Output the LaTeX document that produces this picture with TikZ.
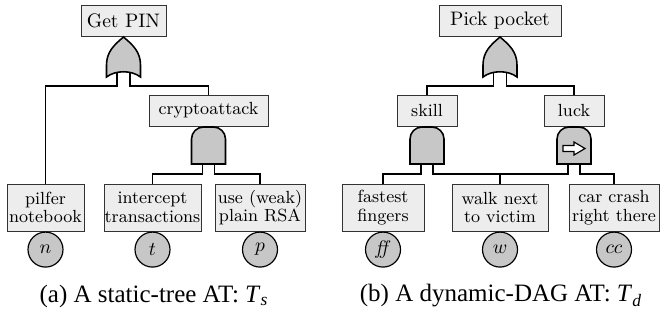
\documentclass[tikz,border=0pt]{standalone}
\usepackage{fontspec}
\newfontfamily\capfont{Liberation Serif}
\usetikzlibrary{calc}
\pgfdeclarelayer{bg}
\pgfsetlayers{bg,main}
\def\pxu{0.512pt}
\tikzset{
  box/.style={draw=black!80, line width=0.5pt, fill=black!7, inner sep=0pt, align=center, font=\fontsize{9}{9.5}\selectfont},
  rootbox/.style={box, font=\fontsize{10}{12}\selectfont},
  leaf/.style={draw=black, line width=0.6pt, fill=black!22, circle, inner sep=0pt, minimum size=35*\pxu, font=\fontsize{10}{12}\selectfont, anchor=north},
  wire/.style={line width=0.8pt},
  gate/.style={draw=black, line width=0.8pt, fill=black!22},
  caption/.style={font=\capfont\fontsize{12.8}{14}\selectfont, inner sep=0pt},
  orgate/.pic={
    \path[gate] (0,0) .. controls (9.5,8) and (17,15) .. (17,28) -- (17,40)
      .. controls (8,33) and (-8,33) .. (-17,40) -- (-17,28)
      .. controls (-17,15) and (-9.5,8) .. (0,0) -- cycle;
    \coordinate (-l) at (-6.5,33); \coordinate (-lb) at (-6.5,49);
    \coordinate (-r) at (6.5,33);  \coordinate (-rb) at (6.5,49);
  },
  andgate/.pic={
    \path[gate] (-17,37) -- (-17,12) .. controls (-17,5.4) and (-11.6,0) .. (-5,0)
      -- (5,0) .. controls (11.6,0) and (17,5.4) .. (17,12) -- (17,37) -- cycle;
    \coordinate (-l) at (-6,35); \coordinate (-lb) at (-6,47);
    \coordinate (-r) at (6,35);  \coordinate (-rb) at (6,47);
  },
  sandgate/.pic={
    \path[gate] (-17,37) -- (-17,12) .. controls (-17,5.4) and (-11.6,0) .. (-5,0)
      -- (5,0) .. controls (11.6,0) and (17,5.4) .. (17,12) -- (17,37) -- cycle;
    \draw[line width=0.6pt, fill=white] (-11,18.5) -- (0,18.5) -- (0,15) -- (11,21.5)
      -- (0,28) -- (0,24.5) -- (-11,24.5) -- cycle;
    \coordinate (-l) at (-6,35); \coordinate (-lb) at (-6,47);
    \coordinate (-r) at (6,35);  \coordinate (-rb) at (6,47);
  },
}
\begin{document}
\begin{tikzpicture}[x=0.512pt,y=-0.512pt]
\useasboundingbox (0,0) rectangle (660,320);

% ---- (a) static tree ----
\node[rootbox, minimum width=85*\pxu, minimum height=31*\pxu] (getpin) at (123.5,20.5) {Get PIN};
\node[box, minimum width=119*\pxu, minimum height=31*\pxu] (crypto) at (208.5,110.5) {cryptoattack};
\node[box, minimum width=77*\pxu, minimum height=47*\pxu] (pilfer) at (45.5,207.5) {pilfer\\notebook};
\node[box, minimum width=97*\pxu, minimum height=47*\pxu] (intercept) at (152.5,207.5) {intercept\\transactions};
\node[box, minimum width=90*\pxu, minimum height=47*\pxu] (rsa) at (260,207.5) {use (weak)\\plain RSA};
\node[leaf] (cn) at (pilfer.south) {$n$};
\node[leaf] (ct) at (intercept.south) {$t$};
\node[leaf] (cp) at (rsa.south) {$p$};
\pic (g1) at (123.5,37) {orgate};
\pic (g2) at (208.5,127) {andgate};

% ---- (b) dynamic DAG ----
\node[rootbox, minimum width=122*\pxu, minimum height=31*\pxu] (pick) at (500,20.5) {Pick pocket};
\node[box, minimum width=60*\pxu, minimum height=31*\pxu] (skill) at (427,110.5) {skill};
\node[box, minimum width=60*\pxu, minimum height=31*\pxu] (luck) at (574,110.5) {luck};
\node[box, minimum width=82*\pxu, minimum height=47*\pxu] (fastest) at (383,207.5) {fastest\\fingers};
\node[box, minimum width=96*\pxu, minimum height=47*\pxu] (walk) at (500,207.5) {walk next\\to victim};
\node[box, minimum width=90*\pxu, minimum height=47*\pxu] (car) at (614,207.5) {car crash\\right there};
\node[leaf] (cff) at (fastest.south) {\textit{ff}};
\node[leaf] (cw) at (walk.south) {$w$};
\node[leaf] (ccc) at (car.south) {$cc$};
\pic (g3) at (500,37) {orgate};
\pic (g4) at (427,127) {andgate};
\pic (g5) at (574,127) {sandgate};

% ---- connectors ----
\begin{pgfonlayer}{bg}
\draw[wire] (g1-l) -- (g1-lb) -| (pilfer.north);
\draw[wire] (g1-r) -- (g1-rb) -| (crypto.north);
\draw[wire] (g2-l) -- (g2-lb) -| (intercept.north);
\draw[wire] (g2-r) -- (g2-rb) -| (rsa.north);
\draw[wire] (g3-l) -- (g3-lb) -| (skill.north);
\draw[wire] (g3-r) -- (g3-rb) -| (luck.north);
\draw[wire] (g4-l) -- (g4-lb) -| (fastest.north);
\draw[wire] (g4-r) -- (g4-rb) -| (walk.north);
\draw[wire] (g5-l) -- (g5-lb) -| (walk.north);
\draw[wire] (g5-r) -- (g5-rb) -| (car.north);
\end{pgfonlayer}

% ---- captions ----
\node[caption] (capa) at (154,296) {(a) A static-tree AT: \textit{T}\textsubscript{\textit{s}}};
\node[caption] (capb) at (501,296) {(b) A dynamic-DAG AT: \textit{T}\textsubscript{\textit{d}}};
\end{tikzpicture}
\end{document}
